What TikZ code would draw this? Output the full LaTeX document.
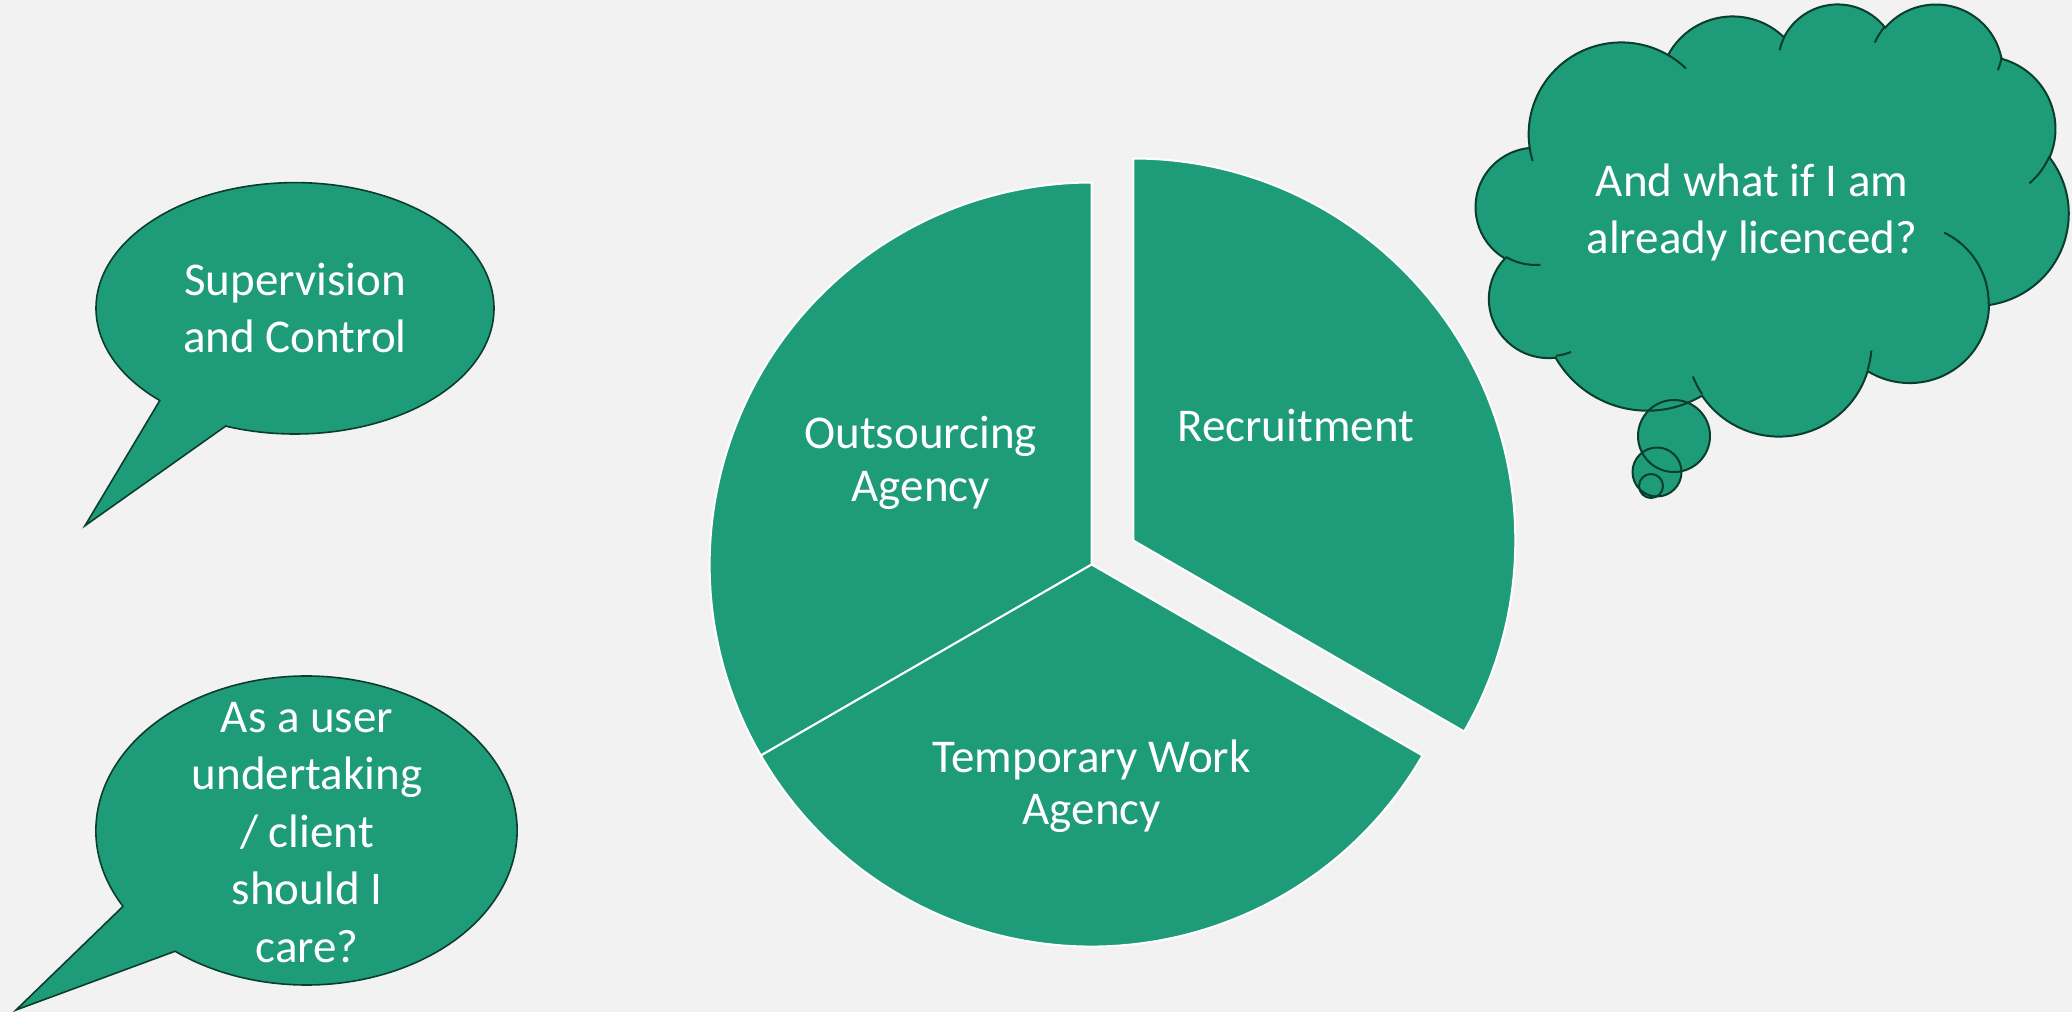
\documentclass[tikz,border=0pt]{standalone}
\usepackage{fontspec}
\setmainfont{Carlito}
\usetikzlibrary{calc}
\definecolor{bgc}{RGB}{242,242,242}
\definecolor{pgreen}{RGB}{30,155,121}
\definecolor{pdark}{RGB}{10,62,44}
% visual angle -> parametric angle on an ellipse (rx,ry)
\pgfmathdeclarefunction{vp}{3}{%
  \begingroup
  \pgfmathparse{atan2((#2)*sin(#1),(#3)*cos(#1))-(#1)}%
  \let\vpd\pgfmathresult
  \pgfmathparse{(#1)+(\vpd)-360*round((\vpd)/360)}%
  \pgfmathsmuggle\pgfmathresult
  \endgroup}
\newcommand{\carc}[4]{arc[start angle={vp(#1,#3,#4)}, end angle={vp(#2,#3,#4)}, x radius=#3, y radius=#4]}
\begin{document}
\begin{tikzpicture}[x=0.5pt,y=-0.5pt,
  slice/.style={fill=pgreen, draw=white, line width=1pt, line join=round},
  bubble/.style={fill=pgreen, draw=pdark, line width=0.8pt, line join=miter},
  cloudline/.style={draw=pdark, line width=1pt},
  lbl/.style={text=white, font=\fontsize{23.5pt}{28.75pt}\selectfont, align=center, inner sep=0pt, anchor=north},
  clbl/.style={lbl, font=\fontsize{23.5pt}{26.25pt}\selectfont}]

\fill[bgc] (0,0) rectangle (2072,1012);
\useasboundingbox (0,0) rectangle (2072,1012);

% ---------- pie ----------
\coordinate (pc) at (1091.7,564.5);
\coordinate (rc) at (1133.3,540.5);
\filldraw[slice] (pc) -- ++(150:382) arc[start angle=150, end angle=270, radius=382] -- cycle;
\filldraw[slice] (pc) -- ++(30:382) arc[start angle=30, end angle=150, radius=382] -- cycle;
\filldraw[slice] (rc) -- ++(-90:382) arc[start angle=-90, end angle=30, radius=382] -- cycle;

\node[clbl] (outs) at (920.7,408.2) {\rule{0pt}{20pt}Outsourcing\\Agency};
\node[clbl] (recr) at (1295.7,401.2) {\rule{0pt}{20pt}Recruitment};
\node[clbl] (temp) at (1091.7,731.7) {\rule{0pt}{20pt}Temporary Work\\Agency};

% ---------- speech bubble 1 ----------
\coordinate (b1c) at (295,308.3);
\coordinate (b1t) at (85,525.7);
\filldraw[bubble] ($(b1c)+(110.4:199 and 125.7)$) -- (b1t) -- ($(b1c)+(132.8:199 and 125.7)$)
  arc[start angle=132.8, end angle=470.4, x radius=199, y radius=125.7] -- cycle;
\node[lbl] (sup) at (295,255) {\rule{0pt}{20pt}Supervision\\and Control};

% ---------- speech bubble 2 ----------
\coordinate (b2c) at (306.5,830.5);
\coordinate (b2t) at (16,1010);
\filldraw[bubble] ($(b2c)+(128.6:210.6 and 154.5)$) -- (b2t) -- ($(b2c)+(150.6:210.6 and 154.5)$)
  arc[start angle=150.6, end angle=488.6, x radius=210.6, y radius=154.5] -- cycle;
\node[lbl] (care) at (307,691.7) {\rule{0pt}{20pt}As a user\\undertaking\\/ client\\should I\\care?};

% ---------- thought cloud ----------
\coordinate (t1) at (1674,436);
\coordinate (t2) at (1657,472);
\coordinate (t3) at (1651,486);
\fill[pgreen] (t1) circle[radius=36] (t2) circle[radius=24.5] (t3) circle[radius=12];
\begin{scope}[shift={(1476,3)}]
\begin{scope}[x=0.68576pt, y=-0.5pt]
\filldraw[fill=pgreen, cloudline] (39.00,143.70)
  \carc{-190.48748}{-66.70695}{67.53}{91.90}
  \carc{-144.10238}{-54.15715}{53.33}{72.67}
  \carc{-145.80792}{-46.08490}{43.65}{59.45}
  \carc{-130.98607}{-13.74434}{48.57}{65.95}
  \carc{-78.70888}{30.31804}{53.33}{72.73}
  \carc{-46.26725}{84.00175}{67.75}{92.20}
  \carc{0.62502}{114.65835}{57.85}{78.67}
  \carc{22.45160}{137.62415}{67.52}{92.15}
  \carc{66.24263}{141.95365}{77.20}{105.43}
  \carc{-274.94208}{-128.20651}{43.60}{59.18}
  \carc{-246.82850}{-94.30965}{43.45}{59.45}
  -- cycle;
\draw[cloudline]
  (46.93,261.77) \carc{86.74200}{113.17150}{43.45}{59.45}
  (69.28,348.99) \carc{73.61047}{85.05794}{43.60}{59.18}
  (164.78,390.90) \carc{137.62415}{151.70525}{67.52}{92.15}
  (288.27,347.51) \carc{6.45327}{22.45162}{67.52}{92.15}
  (341.29,229.54) \carc{-70.29235}{0.62502}{57.85}{78.67}
  (417.98,153.54) \carc{30.31803}{58.06953}{53.33}{72.73}
  (383.24,54.26) \carc{13.74433}{28.60323}{48.57}{65.95}
  (290.78,39.52) \carc{-149.18145}{-130.98608}{48.57}{65.95}
  (221.41,47.20) \carc{-163.49427}{-145.80792}{43.65}{59.45}
  (140.00,51.92) \carc{-66.70695}{-54.38760}{67.53}{91.90}
  (41.27,157.89) \carc{157.65435}{169.51252}{67.53}{91.90};
\end{scope}
\end{scope}
\draw[cloudline] (t1) circle[radius=36] (t2) circle[radius=24.5] (t3) circle[radius=12];
\node[lbl] (lic) at (1752,155.7) {\rule{0pt}{20pt}And what if I am\\already licenced?};
\end{tikzpicture}
\end{document}
